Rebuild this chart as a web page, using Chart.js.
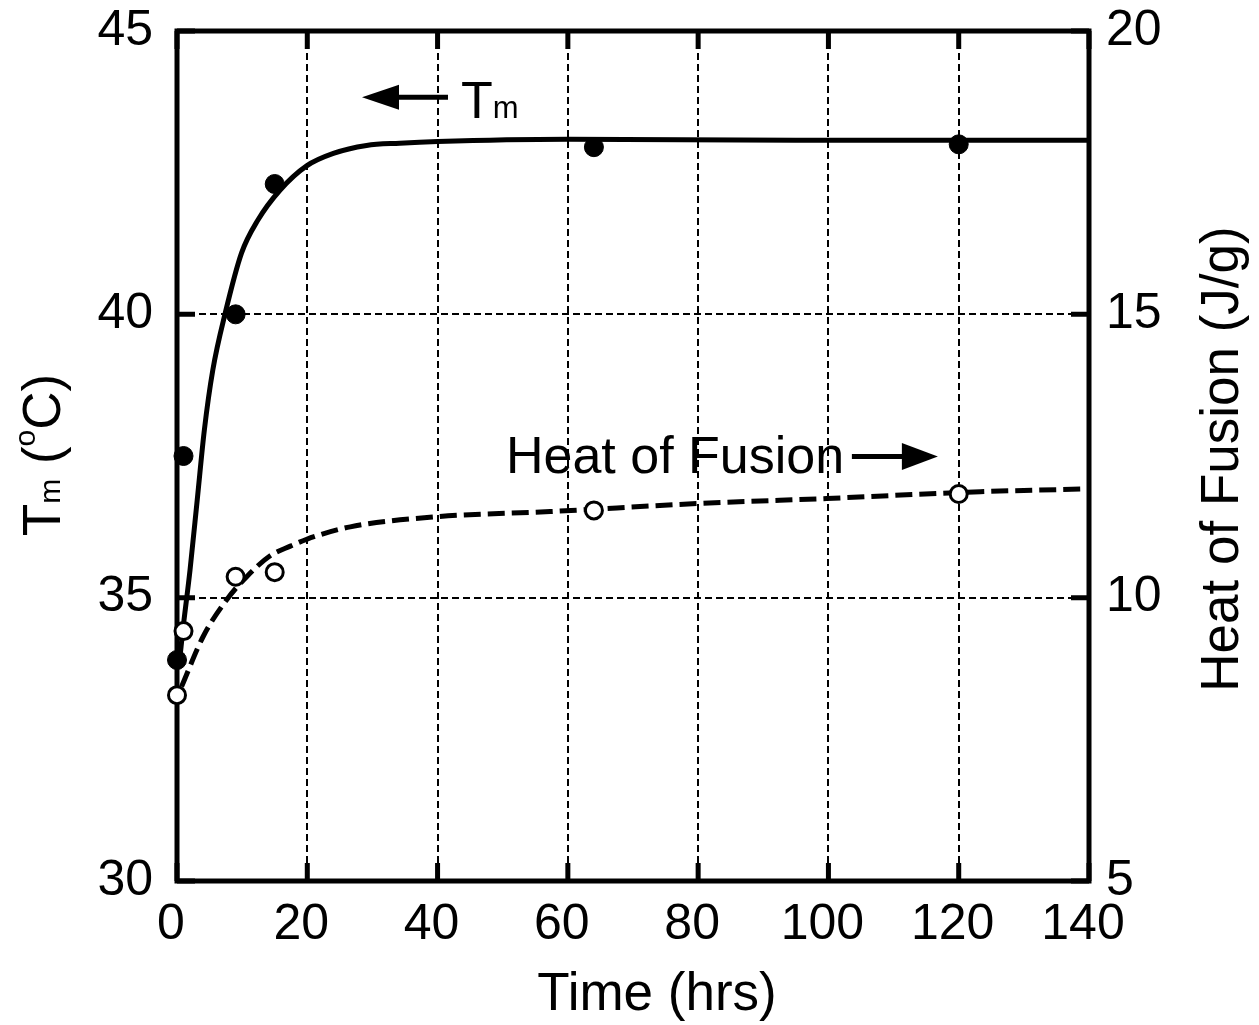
<!DOCTYPE html>
<html>
<head>
<meta charset="utf-8">
<script src="https://cdn.jsdelivr.net/npm/chart.js@4/dist/chart.umd.min.js"></script>
<style>
    html, body { margin: 0; padding: 0; background: #fff; }
    #grafico { display: block; }
</style>
</head>
<body>
<canvas id="grafico" width="1259" height="1025"></canvas>
<script>
const FONTE = '"Liberation Sans", Arial, Helvetica, sans-serif';

// pontos medidos
const tempoTm = [0, 1, 9, 15, 64, 120];
const valoresTm = [33.9, 37.5, 40.0, 42.3, 42.95, 43.0];

const tempoCalor = [0, 1, 9, 15, 64, 120];
const valoresCalor = [8.28, 9.41, 10.37, 10.45, 11.54, 11.83];

// curvas de ajuste
const tempoAjusteTm = [0.5, 0.9, 2.0, 3.1, 4.2, 5.5, 7.4, 9.9, 12.4, 15.8, 19.9, 24.0, 29.1, 34.2, 40, 60, 95, 140];
const ajusteTm = [34.0, 34.43, 35.49, 36.72, 37.96, 39.02, 40.02, 41.08, 41.66, 42.19, 42.62, 42.84, 42.98, 43.02, 43.05, 43.09, 43.07, 43.07];

const tempoAjusteCalor = [0.7, 4.0, 7.6, 10.7, 14.3, 17.4, 19.9, 26.6, 40.1, 57.3, 79.8, 99.7, 123.3, 140];
const ajusteCalor = [8.43, 9.31, 9.96, 10.37, 10.74, 10.91, 11.03, 11.25, 11.43, 11.52, 11.66, 11.75, 11.87, 11.92];

// marcas dos eixos
const ticksTempo = [0, 20, 40, 60, 80, 100, 120, 140];
const ticksTm = [30, 35, 40, 45];
const ticksCalor = [5, 10, 15, 20];

const pares = (xs, ys) => xs.map((x, i) => ({ x: x, y: ys[i] }));

function fonte(tam) {
    return `${tam}px ${FONTE}`;
}

// escreve texto com partes de tamanhos diferentes (subscrito / sobrescrito)
function textoComposto(ctx, partes, cx, cy, rot) {
    ctx.save();
    ctx.translate(cx, cy);
    ctx.rotate(rot);
    let total = 0;
    partes.forEach(p => { ctx.font = fonte(p.tam); total += ctx.measureText(p.t).width; });
    let x = -total / 2;
    ctx.textBaseline = 'alphabetic';
    ctx.textAlign = 'left';
    partes.forEach(p => {
        ctx.font = fonte(p.tam);
        ctx.fillText(p.t, x, p.dy || 0);
        x += ctx.measureText(p.t).width;
    });
    ctx.restore();
}

function seta(ctx, xBase, xPonta, yy, compCabeca, altCabeca) {
    const dir = Math.sign(xPonta - xBase);
    ctx.beginPath();
    ctx.moveTo(xBase, yy);
    ctx.lineTo(xPonta - dir * compCabeca * 0.8, yy);
    ctx.stroke();
    ctx.beginPath();
    ctx.moveTo(xPonta, yy);
    ctx.lineTo(xPonta - dir * compCabeca, yy - altCabeca);
    ctx.lineTo(xPonta - dir * compCabeca, yy + altCabeca);
    ctx.closePath();
    ctx.fill();
}

const molduraPlugin = {
    id: 'moldura',
    beforeDatasetsDraw(chart) {
        const { ctx, chartArea: a, scales } = chart;
        ctx.save();
        ctx.strokeStyle = '#000';
        ctx.lineWidth = 5;
        ctx.setLineDash([]);
        ctx.beginPath();
        ticksTempo.forEach(v => {
            const px = scales.x.getPixelForValue(v);
            ctx.moveTo(px, a.bottom); ctx.lineTo(px, a.bottom - 18);
            ctx.moveTo(px, a.top); ctx.lineTo(px, a.top + 18);
        });
        ticksTm.forEach(v => {
            const py = scales.y.getPixelForValue(v);
            ctx.moveTo(a.left, py); ctx.lineTo(a.left + 18, py);
        });
        ticksCalor.forEach(v => {
            const py = scales.y2.getPixelForValue(v);
            ctx.moveTo(a.right, py); ctx.lineTo(a.right - 18, py);
        });
        ctx.stroke();
        ctx.strokeRect(a.left, a.top, a.right - a.left, a.bottom - a.top);
        ctx.restore();
    },
    afterDraw(chart) {
        const { ctx, scales } = chart;
        const sx = scales.x, sy = scales.y, sy2 = scales.y2;
        ctx.save();
        ctx.fillStyle = '#000';
        ctx.strokeStyle = '#000';

        // titulos dos eixos
        textoComposto(ctx, [{ t: 'Time (hrs)', tam: 53 }], 657, 1010, 0);
        textoComposto(ctx, [
            { t: 'T', tam: 53 }, { t: 'm', tam: 30 }, { t: ' (', tam: 53 },
            { t: 'o', tam: 30, dy: -25 }, { t: 'C)', tam: 53 }
        ], 60, 455, -Math.PI / 2);
        textoComposto(ctx, [{ t: 'Heat of Fusion (J/g)', tam: 53 }], 1238, 459, -Math.PI / 2);

        // anotacoes
        ctx.lineWidth = 5;
        seta(ctx, sx.getPixelForValue(41.6), sx.getPixelForValue(28.4), sy.getPixelForValue(43.83), 37, 12.5);
        ctx.textAlign = 'left';
        ctx.textBaseline = 'alphabetic';
        ctx.font = fonte(52);
        const xT = sx.getPixelForValue(43.6);
        const yT = sy.getPixelForValue(43.46);
        ctx.fillText('T', xT, yT);
        const wT = ctx.measureText('T').width;
        ctx.font = fonte(31);
        ctx.fillText('m', xT + wT, yT);

        ctx.font = fonte(52);
        ctx.fillText('Heat of Fusion', sx.getPixelForValue(50.5), sy2.getPixelForValue(12.2));
        seta(ctx, sx.getPixelForValue(103.6), sx.getPixelForValue(116.8), sy2.getPixelForValue(12.49), 36, 13.5);
        ctx.restore();
    }
};

const eixoFonte = { family: FONTE, size: 50 };

function semPaddingVertical(s, largura) {
    s.width = largura;
    s.paddingTop = 0;
    s.paddingBottom = 0;
}

new Chart(document.getElementById('grafico'), {
    type: 'scatter',
    data: {
        datasets: [
            {
                label: 'Tm',
                data: pares(tempoTm, valoresTm),
                yAxisID: 'y',
                showLine: false,
                pointStyle: 'circle',
                pointRadius: 9.5,
                pointBackgroundColor: '#000',
                pointBorderColor: '#000',
                pointBorderWidth: 1,
                clip: false
            },
            {
                label: 'Heat of Fusion',
                data: pares(tempoCalor, valoresCalor),
                yAxisID: 'y2',
                showLine: false,
                pointStyle: 'circle',
                pointRadius: 8.5,
                pointBackgroundColor: '#fff',
                pointBorderColor: '#000',
                pointBorderWidth: 3,
                clip: false
            },
            {
                label: 'ajuste Tm',
                data: pares(tempoAjusteTm, ajusteTm),
                yAxisID: 'y',
                showLine: true,
                borderColor: '#000',
                borderWidth: 5,
                pointRadius: 0,
                cubicInterpolationMode: 'monotone'
            },
            {
                label: 'ajuste calor',
                data: pares(tempoAjusteCalor, ajusteCalor),
                yAxisID: 'y2',
                showLine: true,
                borderColor: '#000',
                borderWidth: 5,
                borderDash: [17, 7],
                pointRadius: 0,
                cubicInterpolationMode: 'monotone'
            }
        ]
    },
    options: {
        responsive: false,
        devicePixelRatio: 1,
        animation: false,
        layout: { padding: { top: 31, left: 0, right: 0, bottom: 0 } },
        plugins: { legend: { display: false }, tooltip: { enabled: false } },
        scales: {
            x: {
                type: 'linear',
                position: 'bottom',
                min: 0,
                max: 140,
                afterBuildTicks: s => { s.ticks = ticksTempo.map(v => ({ value: v })); },
                afterFit: s => { s.height = 144; s.paddingLeft = 0; s.paddingRight = 0; },
                ticks: { font: eixoFonte, color: '#000', padding: 14, labelOffset: -6, maxRotation: 0, autoSkip: false },
                grid: { color: '#000', lineWidth: 2, drawTicks: false },
                border: { display: false, dash: [7, 4] }
            },
            y: {
                type: 'linear',
                position: 'left',
                min: 30,
                max: 45,
                afterBuildTicks: s => { s.ticks = ticksTm.map(v => ({ value: v })); },
                afterFit: s => semPaddingVertical(s, 177),
                ticks: { font: eixoFonte, color: '#000', padding: 24, autoSkip: false },
                grid: { color: '#000', lineWidth: 2, drawTicks: false },
                border: { display: false, dash: [7, 4] }
            },
            y2: {
                type: 'linear',
                position: 'right',
                min: 5,
                max: 20,
                afterBuildTicks: s => { s.ticks = ticksCalor.map(v => ({ value: v })); },
                afterFit: s => semPaddingVertical(s, 170),
                ticks: { font: eixoFonte, color: '#000', padding: 17, autoSkip: false },
                grid: { display: false, drawTicks: false },
                border: { display: false }
            }
        }
    },
    plugins: [molduraPlugin]
});
</script>
</body>
</html>
